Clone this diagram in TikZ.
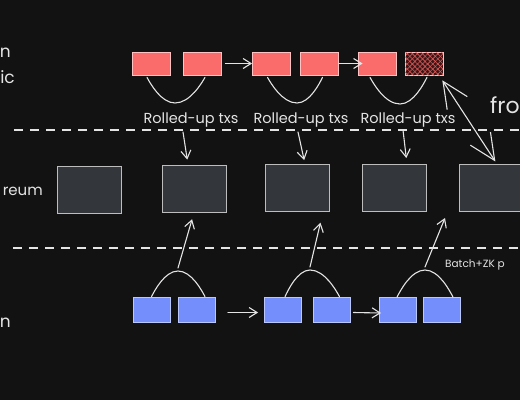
\documentclass[tikz,border=0pt]{standalone}
\usepackage{fontspec}
\setmainfont{Poppins}
\usetikzlibrary{arrows.meta,patterns.meta,calc}
\definecolor{bg}{HTML}{121212}
\definecolor{ink}{HTML}{E4E4E4}
\definecolor{redfill}{HTML}{FA6B6B}
\definecolor{redline}{HTML}{FFC2C2}
\definecolor{hatchbg}{HTML}{3A1616}
\definecolor{hatchred}{HTML}{E05A5A}
\definecolor{bluefill}{HTML}{748FFC}
\definecolor{blueline}{HTML}{BAC6FF}
\definecolor{grayfill}{HTML}{33373B}
\definecolor{grayline}{HTML}{BDBDBD}
\tikzset{
  redbox/.style={draw=redline, fill=redfill, line width=0.8pt, inner sep=0pt, minimum width=38pt, minimum height=23pt},
  hatchbox/.style={draw=redline, line width=0.8pt, inner sep=0pt, minimum width=38pt, minimum height=23pt,
    preaction={fill=hatchbg},
    pattern={Lines[angle=45,distance=3.6pt,line width=0.6pt]}, pattern color=hatchred,
    postaction={pattern={Lines[angle=-45,distance=3.6pt,line width=0.6pt]}, pattern color=hatchred}},
  bluebox/.style={draw=blueline, fill=bluefill, line width=0.8pt, inner sep=0pt, minimum width=37pt, minimum height=25pt},
  graybox/.style={draw=grayline, fill=grayfill, line width=1pt, inner sep=0pt, minimum width=64pt, minimum height=47pt},
  lbl/.style={text=ink, inner sep=0pt, font=\fontsize{14.5}{16}\selectfont},
  conn/.style={draw=ink, line width=1.1pt, line cap=round},
  arr/.style={conn, -{Straight Barb[length=8pt,width=10pt]}},
  bigarr/.style={conn, {Straight Barb[length=26pt,width=24pt]}-{Straight Barb[length=26pt,width=24pt]}},
  sep/.style={draw=ink, line width=1.3pt, dash pattern=on 9pt off 7pt}
}
\begin{document}
\begin{tikzpicture}[x=1pt,y=-1pt]
\fill[bg] (0,0) rectangle (520,400);
\useasboundingbox (0,0) rectangle (520,400);

% left cut-off labels
\node[lbl, anchor=base east, font=\fontsize{17}{19}\selectfont] (tn1) at (11,57) {n};
\node[lbl, anchor=base east, font=\fontsize{17}{19}\selectfont] (tic) at (15,83) {ic};
\node[lbl, anchor=base east, font=\fontsize{15}{18}\selectfont] (treum) at (43,195) {reum};
\node[lbl, anchor=base east, font=\fontsize{17}{19}\selectfont] (tn2) at (11,327) {n};

% dashed separators
\coordinate (d1a) at (14,130); \coordinate (d1b) at (522,130);
\coordinate (d2a) at (13,248); \coordinate (d2b) at (522,248);
\draw[sep] (d1a) -- (d1b);
\draw[sep] (d2a) -- (d2b);

% red row
\node[redbox] (r1) at (151,63.5) {};
\node[redbox] (r2) at (202,63.5) {};
\node[redbox] (r3) at (271.5,63.5) {};
\node[redbox] (r4) at (319.5,63.5) {};
\node[redbox] (r5) at (377,63.5) {};
\node[hatchbox] (r6) at (424,63.5) {};
\draw[arr] (r2.east) ++(4,0) -- (r3.west);
\draw[arr] (r4.east) -- ($(r5.west)+(5,0)$);

% U curves
\coordinate (u1) at (175,103);
\coordinate (u2) at (297,103);
\coordinate (u3) at (400,104);
\draw[conn] ($(r1.south)+(-4,2)$) parabola bend (u1) ($(r2.south)+(3,2)$);
\draw[conn] ($(r3.south)+(-4,2)$) parabola bend (u2) ($(r4.south)+(3,2)$);
\draw[conn] ($(r5.south)+(-7,2)$) parabola bend (u3) ($(r6.south)+(3,2)$);

% labels
\node[lbl, anchor=base] (l1) at (191,123) {Rolled-up txs};
\node[lbl, anchor=base] (l2) at (301,123) {Rolled-up txs};
\node[lbl, anchor=base] (l3) at (408,123) {Rolled-up txs};
\node[lbl, anchor=base west, font=\fontsize{22}{24}\selectfont] (tfro) at (490,113) {fro};
\node[lbl, anchor=base west, font=\fontsize{10.5}{12}\selectfont] (tbatch) at (445,267) {Batch+ZK p};

% gray row
\node[graybox] (A) at (89.5,189.5) {};
\node[graybox] (B) at (194,188.5) {};
\node[graybox] (C) at (297,188) {};
\node[graybox] (D) at (394,188) {};
\node[graybox] (E) at (491,188) {};

% down arrows
\draw[arr, shorten >=5pt] ($(l1.base)+(-8,9)$) -- ($(B.north)+(-6,0)$);
\draw[arr, shorten >=4pt] ($(l2.base)+(-3,9)$) -- ($(C.north)+(8,0)$);
\draw[arr, shorten >=6pt] ($(l3.base)+(-5,7)$) -- ($(D.north)+(13,0)$);
\draw[bigarr, shorten >=3pt] ($(r6.south east)+(-1,5)$) -- ($(E.north)+(6,0)$);

% blue row
\node[bluebox] (b1) at (151.5,309.5) {};
\node[bluebox] (b2) at (197,309.5) {};
\node[bluebox] (b3) at (283,309.5) {};
\node[bluebox] (b4) at (331.5,309.5) {};
\node[bluebox] (b5) at (398,310) {};
\node[bluebox] (b6) at (442,310) {};
\draw[arr] ($(b2.east)+(12,3)$) -- ($(b3.west)+(-6,3)$);
\draw[arr] ($(b4.east)+(3,3)$) -- ($(b5.west)+(2,3)$);

% arches
\coordinate (a1) at (178,271);
\coordinate (a2) at (310,270);
\coordinate (a3) at (425,270);
\draw[conn] ($(b1.north)+(0,0)$) parabola bend (a1) ($(b2.north)+(8,0)$);
\draw[conn] ($(b3.north)+(2,0)$) parabola bend (a2) ($(b4.north)+(8,0)$);
\draw[conn] ($(b5.north)+(-1,0)$) parabola bend (a3) ($(b6.north)+(11,0)$);

% up arrows
\coordinate (t3) at (445,218);
\draw[arr, shorten >=7pt] ($(a1)+(0,-3)$) -- (B.south);
\draw[arr, shorten >=11pt] ($(a2)+(0,-3)$) -- ($(C.south)+(26,0)$);
\draw[arr] ($(a3)+(0,-3)$) -- (t3);
\end{tikzpicture}
\end{document}
